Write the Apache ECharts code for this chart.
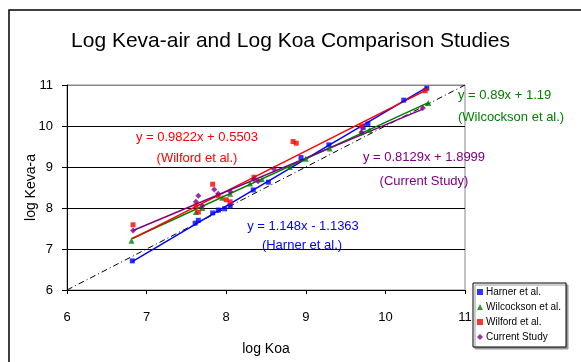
<!DOCTYPE html>
<html>
<head>
<meta charset="utf-8">
<script src="https://cdn.jsdelivr.net/npm/echarts@6/dist/echarts.min.js"></script>
<style>
  html, body { margin: 0; padding: 0; background: #fff; }
  #chart { width: 581px; height: 362px; }
</style>
</head>
<body>
<div id="chart"></div>
<script>
// study names, in legend order
const studies = ['Harner et al.', 'Wilcockson et al.', 'Wilford et al.', 'Current Study'];
const colors = ['#0000ff', '#008000', '#ff0000', '#800080'];
const symbols = ['rect', 'triangle', 'rect', 'diamond'];

// points [log Koa, log Keva-a]
const harner = [[6.82, 6.71], [7.61, 7.63], [7.65, 7.70], [7.83, 7.88], [7.90, 7.95], [7.98, 7.98],
  [8.05, 8.05], [8.34, 8.44], [8.53, 8.63], [8.94, 9.23], [9.29, 9.54], [9.72, 9.96],
  [9.78, 10.05], [10.23, 10.63], [10.52, 10.92]];
const wilcockson = [[6.81, 7.20], [7.62, 7.90], [7.70, 8.00], [7.95, 8.25], [8.05, 8.35],
  [8.30, 8.60], [8.45, 8.70], [8.80, 9.00], [9.00, 9.20], [9.30, 9.45], [9.70, 9.85],
  [9.80, 9.90], [10.54, 10.56]];
const wilford = [[6.83, 7.59], [7.62, 8.05], [7.65, 7.90], [7.83, 8.58], [7.90, 8.30],
  [8.00, 8.20], [8.05, 8.15], [8.35, 8.75], [8.84, 9.62], [8.88, 9.58], [9.70, 10.00],
  [10.50, 10.86]];
const current = [[6.83, 7.45], [7.62, 8.15], [7.65, 8.30], [7.70, 8.05], [7.85, 8.45],
  [7.90, 8.35], [8.05, 8.40], [8.35, 8.70], [8.40, 8.65], [8.60, 8.95], [9.70, 9.85],
  [10.47, 10.44]];
const pointSets = [harner, wilcockson, wilford, current];

// fitted trendlines as printed on the chart
const slopes = [1.148, 0.89, 0.9822, 0.8129];
const intercepts = [-1.1363, 1.19, 0.5503, 1.8999];
const fitRanges = [[6.82, 10.52], [6.81, 10.54], [6.83, 10.50], [6.83, 10.47]];
const equations = ['y = 1.148x - 1.1363', 'y = 0.89x + 1.19', 'y = 0.9822x + 0.5503', 'y = 0.8129x + 1.8999'];

// 1:1 reference line
const oneToOne = [[6, 6], [11, 11]];

// axis ticks
const xTicks = [6, 7, 8, 9, 10, 11];
const yTicks = [6, 7, 8, 9, 10, 11];

const chart = echarts.init(document.getElementById('chart'));
const font = 'Liberation Sans, Arial, sans-serif';

const series = [];
series.push({
  name: '1:1',
  type: 'line',
  data: oneToOne,
  symbol: 'none',
  silent: true,
  lineStyle: { color: '#000', width: 1, type: [6, 3, 1, 3] },
  z: 1
});
pointSets.forEach((pts, i) => {
  const r = fitRanges[i];
  series.push({
    name: studies[i] + ' fit',
    type: 'line',
    data: r.map(x => [x, slopes[i] * x + intercepts[i]]),
    symbol: 'none',
    silent: true,
    lineStyle: { color: colors[i], width: 1.5 },
    z: 2
  });
  series.push({
    name: studies[i],
    type: 'scatter',
    data: pts,
    symbol: symbols[i],
    symbolSize: symbols[i] === 'rect' ? 5 : 6,
    itemStyle: { color: colors[i] },
    z: 3
  });
});

// equation labels: [equation, study, x1, y1, x2, y2]
const labelPos = [
  [equations[0], '(Harner et al.)', 303, 226, 302, 245],
  [equations[1], '(Wilcockson et al.)', 458, 95, 458, 117],
  [equations[2], '(Wilford et al.)', 197, 137, 197, 158],
  [equations[3], '(Current Study)', 424, 157, 424, 181]
];
const graphics = [
  { type: 'rect', shape: { x: 9, y: 10, width: 700, height: 500 }, style: { fill: 'none', stroke: '#000', lineWidth: 1.5 }, silent: true },
  { type: 'rect', shape: { x: 67, y: 85, width: 398, height: 205 }, style: { fill: 'none', stroke: '#888', lineWidth: 1 }, silent: true, z: 0 }
];
labelPos.forEach((p, i) => {
  const align = i === 1 ? 'left' : 'center';
  graphics.push({ type: 'text', x: p[2], y: p[3], z: 10, style: { text: p[0], fill: colors[i], font: '13px ' + font, textAlign: align, textVerticalAlign: 'middle' } });
  graphics.push({ type: 'text', x: p[4], y: p[5], z: 10, style: { text: p[1], fill: colors[i], font: '13px ' + font, textAlign: align, textVerticalAlign: 'middle' } });
});

const option = {
  animation: false,
  backgroundColor: '#fff',
  title: {
    text: 'Log Keva-air and Log Koa Comparison Studies',
    left: 'center',
    top: 26,
    textStyle: { fontFamily: font, fontWeight: 'normal', fontSize: 21, color: '#000' }
  },
  grid: { left: 67, right: 116, top: 85, bottom: 72, outerBoundsMode: 'none' },
  legend: {
    data: studies,
    orient: 'vertical',
    left: 473,
    top: 283,
    width: 104,
    padding: [4, 5, 5, 4],
    itemGap: 5,
    itemWidth: 6,
    itemHeight: 6,
    borderColor: '#000',
    borderWidth: 1,
    backgroundColor: '#fff',
    shadowColor: '#999',
    shadowOffsetX: 2,
    shadowOffsetY: 2,
    textStyle: { fontFamily: font, fontSize: 10, color: '#000', padding: [0, 0, 0, -2] }
  },
  xAxis: {
    type: 'value',
    min: xTicks[0],
    max: xTicks[xTicks.length - 1],
    interval: 1,
    name: 'log Koa',
    nameLocation: 'middle',
    nameGap: 52,
    nameMoveOverlap: false,
    nameTextStyle: { fontFamily: font, fontSize: 14, color: '#000' },
    axisLine: { onZero: false, lineStyle: { color: '#000', width: 1 } },
    axisTick: { show: true, length: 4, lineStyle: { color: '#000' } },
    axisLabel: { fontFamily: font, fontSize: 13, color: '#000', margin: 21 },
    splitLine: { show: false }
  },
  yAxis: {
    type: 'value',
    min: yTicks[0],
    max: yTicks[yTicks.length - 1],
    interval: 1,
    name: 'log Keva-a',
    nameLocation: 'middle',
    nameGap: 29,
    nameMoveOverlap: false,
    nameTextStyle: { fontFamily: font, fontSize: 14, color: '#000' },
    axisLine: { onZero: false, lineStyle: { color: '#000', width: 1 } },
    axisTick: { show: true, length: 5, lineStyle: { color: '#000' } },
    axisLabel: { fontFamily: font, fontSize: 13, color: '#000', margin: 14 },
    splitLine: { show: true, lineStyle: { color: ['#000', '#000', '#000', '#000', '#000', '#888'], width: 1 } }
  },
  graphic: graphics,
  series: series
};
chart.setOption(option);
</script>
</body>
</html>
